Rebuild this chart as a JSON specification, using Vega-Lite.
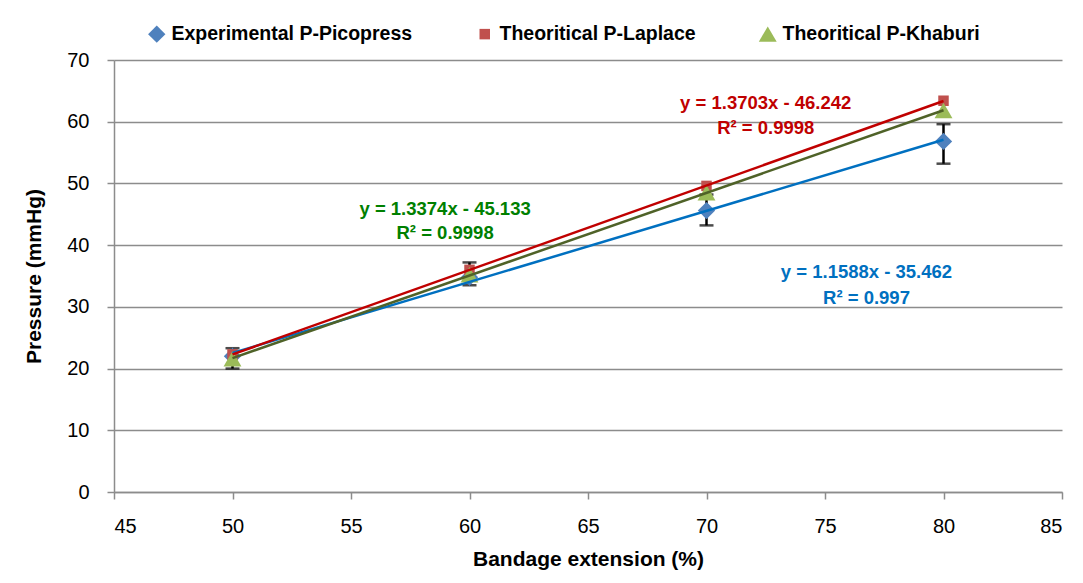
{
  "$schema": "https://vega.github.io/schema/vega-lite/v6.json",
  "autosize": "none",
  "width": 948,
  "height": 432,
  "padding": {"left": 114, "top": 60, "right": 21, "bottom": 91},
  "background": "white",
  "config": {
    "font": "Liberation Sans",
    "view": {"stroke": null},
    "axis": {
      "labelFont": "Liberation Sans",
      "labelFontSize": 20,
      "labelColor": "#000000",
      "titleFont": "Liberation Sans",
      "titleFontSize": 21,
      "titleFontWeight": "bold",
      "titleColor": "#000000",
      "domainColor": "#8c8c8c",
      "domainWidth": 1.5,
      "tickColor": "#8c8c8c",
      "tickWidth": 1.5,
      "tickSize": 7,
      "gridColor": "#8c8c8c",
      "gridWidth": 1.3
    }
  },
  "datasets": {
    "points": [
      {"extension": 50, "pressure": 22.0, "series": "Experimental P-Picopress", "low": 20.0, "high": 23.3},
      {"extension": 60, "pressure": 34.8, "series": "Experimental P-Picopress", "low": 33.5, "high": 37.2},
      {"extension": 70, "pressure": 45.6, "series": "Experimental P-Picopress", "low": 43.2, "high": 48.2},
      {"extension": 80, "pressure": 56.8, "series": "Experimental P-Picopress", "low": 53.2, "high": 59.6},
      {"extension": 50, "pressure": 22.3, "series": "Theoritical P-Laplace"},
      {"extension": 60, "pressure": 36.0, "series": "Theoritical P-Laplace"},
      {"extension": 70, "pressure": 49.6, "series": "Theoritical P-Laplace"},
      {"extension": 80, "pressure": 63.4, "series": "Theoritical P-Laplace"},
      {"extension": 50, "pressure": 21.6, "series": "Theoritical P-Khaburi"},
      {"extension": 60, "pressure": 35.2, "series": "Theoritical P-Khaburi"},
      {"extension": 70, "pressure": 48.5, "series": "Theoritical P-Khaburi"},
      {"extension": 80, "pressure": 61.8, "series": "Theoritical P-Khaburi"}
    ],
    "labels": [
      {"extension": 72.5, "pressure": 63.0, "series": "Theoritical P-Laplace", "text": "y = 1.3703x - 46.242"},
      {"extension": 72.5, "pressure": 59.0, "series": "Theoritical P-Laplace", "text": "R² = 0.9998"},
      {"extension": 58.97, "pressure": 45.9, "series": "Theoritical P-Khaburi", "text": "y = 1.3374x - 45.133"},
      {"extension": 58.97, "pressure": 41.9, "series": "Theoritical P-Khaburi", "text": "R² = 0.9998"},
      {"extension": 76.75, "pressure": 35.6, "series": "Experimental P-Picopress", "text": "y = 1.1588x - 35.462"},
      {"extension": 76.75, "pressure": 31.4, "series": "Experimental P-Picopress", "text": "R² = 0.997"}
    ]
  },
  "encoding": {
    "x": {
      "field": "extension", "type": "quantitative",
      "scale": {"domain": [45, 85], "nice": false, "zero": false},
      "axis": {"values": [45, 50, 55, 60, 65, 70, 75, 80, 85], "grid": false, "title": "Bandage extension (%)", "titlePadding": 12, "labelPadding": 17}
    },
    "y": {
      "field": "pressure", "type": "quantitative",
      "scale": {"domain": [0, 70], "nice": false},
      "axis": {"values": [0, 10, 20, 30, 40, 50, 60, 70], "grid": true, "title": "Pressure (mmHg)", "titlePadding": 22, "labelPadding": 18}
    }
  },
  "layer": [
    {
      "data": {"name": "points"},
      "transform": [{"filter": "datum.low != null"}],
      "mark": {"type": "errorbar", "color": "#000000", "ticks": {"size": 14, "thickness": 2.5, "color": "#000000"}, "rule": {"strokeWidth": 2.5}},
      "encoding": {
        "y": {"field": "low", "type": "quantitative"},
        "y2": {"field": "high"}
      }
    },
    {
      "data": {"name": "points"},
      "mark": {"type": "point", "filled": true, "opacity": 1, "strokeWidth": 0},
      "encoding": {
        "color": {
          "field": "series", "type": "nominal",
          "scale": {"domain": ["Experimental P-Picopress", "Theoritical P-Laplace", "Theoritical P-Khaburi"], "range": ["#4F81BD", "#C0504D", "#9BBB59"]},
          "legend": {
            "title": null, "orient": "none", "direction": "horizontal",
            "legendX": 33, "legendY": -36,
            "labelFont": "Liberation Sans", "labelFontSize": 19.5, "labelFontWeight": "bold", "labelColor": "#000000",
            "labelLimit": 400, "columnPadding": 62, "symbolStrokeWidth": 0, "labelOffset": 5
          }
        },
        "shape": {
          "field": "series", "type": "nominal",
          "scale": {"domain": ["Experimental P-Picopress", "Theoritical P-Laplace", "Theoritical P-Khaburi"], "range": ["diamond", "square", "triangle-up"]}
        },
        "size": {
          "field": "series", "type": "nominal",
          "scale": {"type": "ordinal", "domain": ["Experimental P-Picopress", "Theoritical P-Laplace", "Theoritical P-Khaburi"], "range": [300, 110, 320]}
        }
      }
    },
    {
      "data": {"name": "points"},
      "transform": [{"regression": "pressure", "on": "extension", "groupby": ["series"], "extent": [50, 80]}],
      "mark": {"type": "line", "strokeWidth": 2.5},
      "encoding": {
        "stroke": {
          "field": "series", "type": "nominal",
          "scale": {"domain": ["Experimental P-Picopress", "Theoritical P-Laplace", "Theoritical P-Khaburi"], "range": ["#0070C0", "#C00000", "#4F6228"]},
          "legend": null
        }
      }
    },
    {
      "data": {"name": "labels"},
      "mark": {"type": "text", "fontSize": 18.5, "fontWeight": "bold", "align": "center", "baseline": "middle"},
      "encoding": {
        "text": {"field": "text"},
        "fill": {
          "field": "series", "type": "nominal",
          "scale": {"domain": ["Experimental P-Picopress", "Theoritical P-Laplace", "Theoritical P-Khaburi"], "range": ["#0070C0", "#C00000", "#008000"]},
          "legend": null
        }
      }
    }
  ]
}
